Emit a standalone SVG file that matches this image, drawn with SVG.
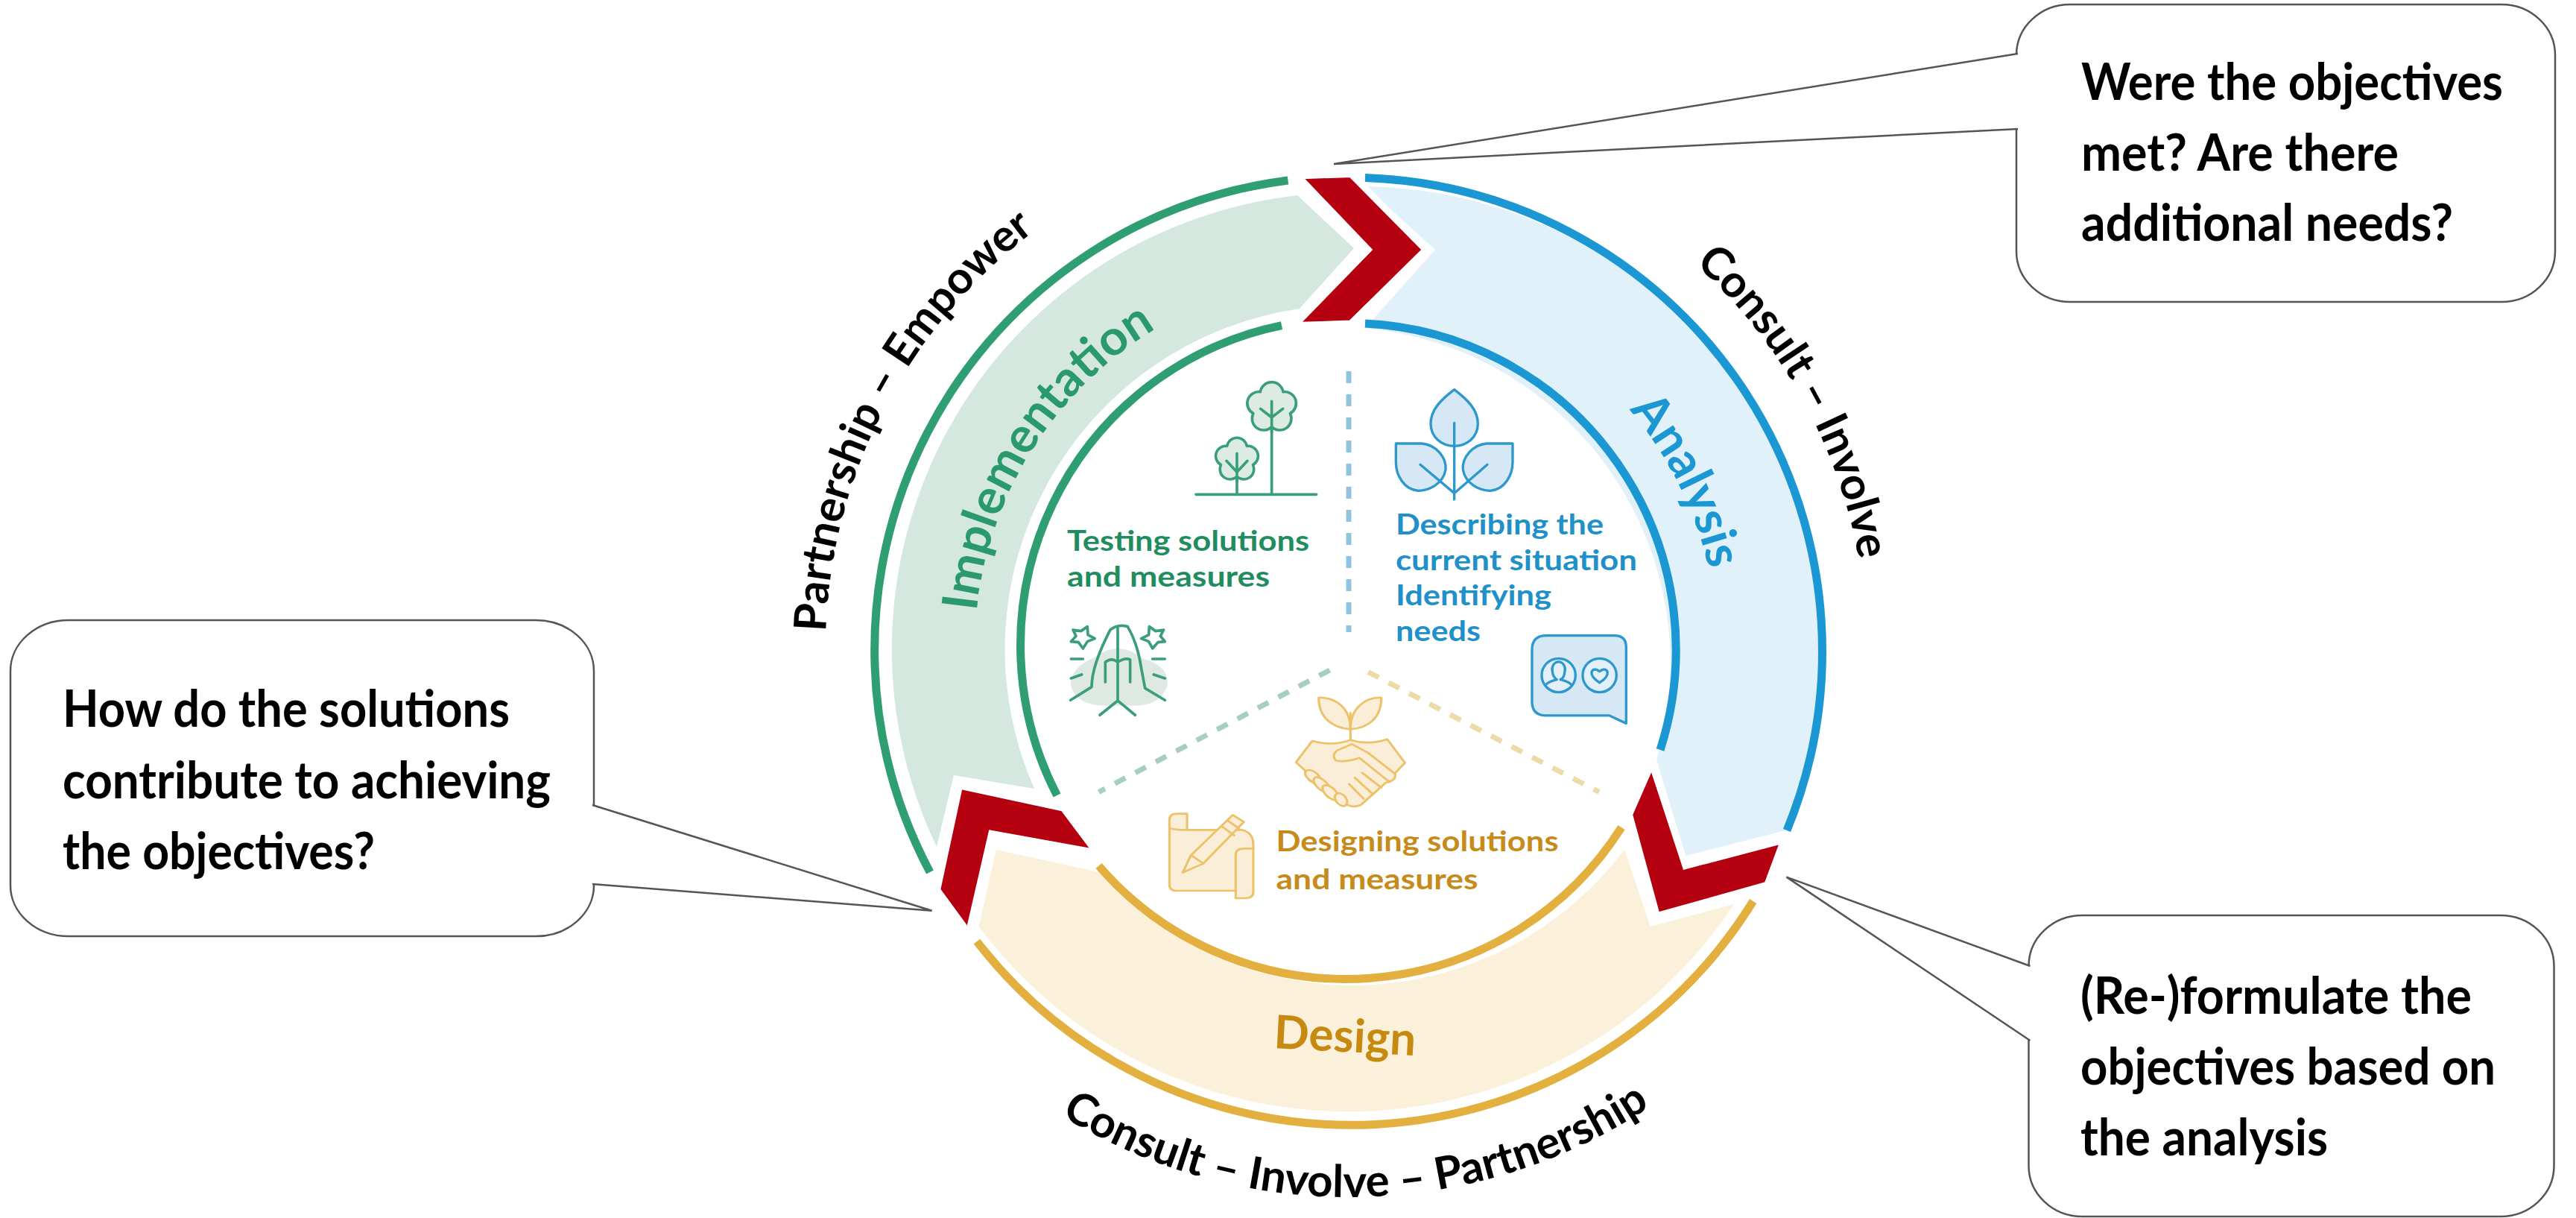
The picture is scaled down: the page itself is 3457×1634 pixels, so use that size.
<svg xmlns="http://www.w3.org/2000/svg" xmlns:xlink="http://www.w3.org/1999/xlink" width="3457" height="1634" viewBox="0 0 3457 1634">
<style>
text{font-family:"Lato","Carlito","Noto Sans",sans-serif;font-weight:700}
.call{fill:#fff;stroke:#555;stroke-width:2.5}
.ct{font-size:69px;fill:#000}
.arc{font-size:60px;fill:#000}
.tail{fill:#fff;stroke:#555;stroke-width:2.5;stroke-linejoin:miter}
.o{fill:none;stroke-width:11}
.g{stroke:#2f9e73}.b{stroke:#1b97d3}.y{stroke:#e3b03f}
.chev{fill:#b5000f;stroke:#fff;stroke-width:9;stroke-linejoin:miter}
.dash{fill:none;stroke-width:7;stroke-dasharray:16 15}
.i{stroke-linecap:round;stroke-linejoin:round}
.ig{fill:none;stroke:#3a9e7b;stroke-width:11}
.ib{fill:#d6e8f6;stroke:#2c98cc;stroke-width:10}
.iy{fill:#fbeed8;stroke:#ecc26a;stroke-width:8}
.tg{fill:#1f8d60;font-size:38px}
.tb{fill:#1f90c9;font-size:38px}
.ty{fill:#c68b1b;font-size:38px}
</style>
<defs>
<path id="p1" d="M1124.6 1022.9A702 702 0 0 1 1541.3 222.4"/>
<path id="p2" d="M2114.7 246.3A695 695 0 0 1 2501.2 943.6"/>
<path id="p3" d="M1298 1398.3A735 735 0 0 0 2337.4 1383"/>
<path id="p4" d="M1312.4 937.4A502 502 0 0 1 1658.2 392.5"/>
<path id="p5" d="M2046.2 436A495 495 0 0 1 2299.6 944.2"/>
<path id="crown" d="M-15.3-21A15.5 15.5 0 0 1 15.3-21A15.5 15.5 0 0 1 24.7 8A15.5 15.5 0 0 1 0 26A15.5 15.5 0 0 1-24.7 8A15.5 15.5 0 0 1-15.3-21Z"/>
</defs>
<rect width="3457" height="1634" fill="#fff"/>

<g id="implementation">
<path d="M1741 262L1817 333L1744 414A462 462 0 0 0 1388 1058L1280 1040L1257 1136A613 613 0 0 1 1741 262Z" fill="#d5e8df"/>
<path class="o g" d="M1248 1170A635 635 0 0 1 1728.5 242"/>
<path class="o g" d="M1418.5 1067A438 438 0 0 1 1720 436.6"/>
<text font-size="66" fill="#2a9a6c" text-anchor="middle"><textPath xlink:href="#p4" href="#p4" startOffset="50%">Implementation</textPath></text>
</g>
<g id="analysis">
<path d="M1832 250A622 622 0 0 1 2396 1114L2262 1148L2223 1019A452 452 0 0 0 1832 440L1926 335Z" fill="#e1f1f9"/>
<path class="o b" d="M1832 238.5A635 635 0 0 1 2398 1114"/>
<path class="o b" d="M1832 434A438 438 0 0 1 2228 1006"/>
<text font-size="66" fill="#1b97d3" text-anchor="middle"><textPath xlink:href="#p5" href="#p5" startOffset="50%">Analysis</textPath></text>
</g>
<g id="design">
<path d="M1337 1140L1475 1170A457 457 0 0 0 2180 1140L2215 1243L2327 1213A620 620 0 0 1 1313.5 1243Z" fill="#fbf0da"/>
<path class="o y" d="M1311 1263A635 635 0 0 0 2352.7 1209"/>
<path class="o y" d="M1474.5 1161.5A438 438 0 0 0 2176 1110"/>
<text x="1804" y="1411" font-size="62" fill="#c68a10" text-anchor="middle" transform="rotate(3 1804 1411)">Design</text>
</g>

<g id="chevrons">
<path class="chev" d="M1741.4 236L1813 233.4L1913.6 335L1813 434L1737 436.6L1836 335Z"/>
<path class="chev" d="M1287.7 1054L1427 1084L1472 1144L1330.7 1118.5L1300 1252L1257.6 1194Z"/>
<path class="chev" d="M2216.7 1023.7L2262 1161.5L2394 1127L2371.7 1187L2223.5 1228.7L2186.5 1092.6Z"/>
</g>

<g id="dividers">
<path class="dash" stroke="#8fc3de" d="M1810 498V848"/>
<path class="dash" stroke="#a6cfc2" d="M1784.5 899L1474.5 1062.5"/>
<path class="dash" stroke="#ecdaa8" d="M1836 901.5L2146 1062.5"/>
</g>

<g id="node-testing">
<g class="i" transform="translate(1350 480) scale(.3333)">
<path fill="#dfe9e3" stroke="none" d="M350 1210Q450 1130 550 1210Q660 1240 650 1320Q620 1400 520 1400L380 1400Q270 1390 260 1310Q270 1240 350 1210Z"/>
<path class="ig" fill="none" d="M765 550H1250M1070 550V175M1070 250L1025 205M1070 250L1115 205M930 550V385M930 470L888 425M930 470L972 425"/>
<use href="#crown" transform="translate(1070 200) scale(3)" fill="#dcebe4" stroke="#3a9e7b" stroke-width="3.6"/>
<use href="#crown" transform="translate(930 410) scale(2.6)" fill="#dcebe4" stroke="#3a9e7b" stroke-width="4"/>
<path class="ig" fill="none" d="M1070 300V175M1070 240L1025 205M1070 240L1115 205M930 500V385M930 460L888 415M930 460L972 415"/>
<path class="ig" stroke-width="8" fill="none" d="M260 1378L345 1325Q345 1240 420 1095Q450 1070 490 1082Q530 1150 545 1250L560 1330L640 1378M450 1085V1380M378 1438L450 1380L520 1438M400 1305V1225Q425 1205 450 1225Q480 1205 500 1215V1305M262 1212H310M262 1290L305 1275M590 1212H640M595 1275L640 1290"/>
<path class="ig" stroke-width="8" fill="#eaf3ee" d="M270 1095L302 1100L328 1082L330 1115L358 1130L328 1142L310 1170L292 1145L262 1142L282 1120Z"/>
<path class="ig" stroke-width="8" fill="#eaf3ee" d="M635 1095L603 1100L577 1082L575 1115L545 1130L575 1142L590 1170L612 1145L640 1142L622 1120Z"/>
</g>
<text class="tg" x="1432" y="739" textLength="325" lengthAdjust="spacingAndGlyphs">Testing solutions</text>
<text class="tg" x="1432" y="787" textLength="272" lengthAdjust="spacingAndGlyphs">and measures</text>
</g>

<g id="node-describing">
<g class="i" transform="translate(1820 480) scale(.3333)">
<path class="ib" d="M395 128C340 170 300 210 300 265C300 320 345 355 395 355C445 355 490 320 490 265C490 210 450 170 395 128Z"/>
<path class="ib" d="M160 345L265 345C320 350 365 400 360 450C350 510 290 535 250 535C190 530 160 470 160 420Z"/>
<path class="ib" d="M630 345L525 345C470 350 425 400 430 450C440 510 500 535 540 535C600 530 630 470 630 420Z"/>
<path fill="none" stroke="#2c98cc" stroke-width="10" d="M395 262V570M258 430L395 545M528 430L395 545"/>
<path class="ib" d="M765 1118H1040Q1087 1118 1087 1165V1472L1020 1440H765Q708 1440 708 1385V1175Q708 1118 765 1118Z"/>
<circle cx="815" cy="1278" r="68" fill="#e3eff9" stroke="#2c98cc" stroke-width="10"/>
<circle cx="980" cy="1278" r="68" fill="#e3eff9" stroke="#2c98cc" stroke-width="10"/>
<path fill="none" stroke="#2c98cc" stroke-width="10" d="M790 1262A26 30 0 1 1 840 1262Q838 1290 822 1295Q860 1305 868 1318M808 1295Q770 1305 762 1318M808 1295Q792 1285 790 1262"/>
<path fill="none" stroke="#2c98cc" stroke-width="10" d="M980 1308Q945 1285 948 1265Q955 1245 980 1262Q1005 1245 1012 1265Q1015 1285 980 1308Z"/>
</g>
<text class="tb" x="1873" y="717" textLength="279" lengthAdjust="spacingAndGlyphs">Describing the</text>
<text class="tb" x="1873" y="765" textLength="324" lengthAdjust="spacingAndGlyphs">current situation</text>
<text class="tb" x="1873" y="812" textLength="209" lengthAdjust="spacingAndGlyphs">Identifying</text>
<text class="tb" x="1873" y="860" textLength="114" lengthAdjust="spacingAndGlyphs">needs</text>
</g>

<g id="node-designing">
<g class="i" transform="translate(1520 900) scale(.395 .3333)">
<path class="iy" d="M632 108C690 105 740 150 740 235C680 230 632 190 632 108Z"/>
<path class="iy" d="M845 108C790 105 740 150 740 235C800 230 845 190 845 108Z"/>
<path fill="none" stroke="#ecc26a" stroke-width="8" d="M740 170V280"/>
<path class="iy" d="M610 282Q680 305 740 278Q800 300 865 275L925 370L885 420Q890 445 860 450L775 540Q740 555 720 530L600 440L585 400L555 368Z"/>
<path class="iy" fill="#fff" d="M690 360Q675 340 695 320L745 295Q770 310 800 330L892 415Q895 440 870 445L770 350Q720 370 690 360Z"/>
<path fill="none" stroke="#ecc26a" stroke-width="8" d="M780 410L845 470M755 430L815 495M735 455L785 515"/>
<ellipse class="iy" cx="612" cy="425" rx="32" ry="18" transform="rotate(45 612 425)"/>
<ellipse class="iy" cx="642" cy="458" rx="36" ry="18" transform="rotate(50 642 458)"/>
<ellipse class="iy" cx="672" cy="490" rx="36" ry="18" transform="rotate(50 672 490)"/>
<ellipse class="iy" cx="708" cy="518" rx="28" ry="18" transform="rotate(60 708 518)"/>
<path class="iy" d="M185 640H370Q410 650 410 700V890Q410 915 380 915H350V885H150Q125 885 125 860V600Q125 575 150 575H185Z"/>
<path fill="none" stroke="#ecc26a" stroke-width="8" d="M125 630Q125 640 185 640M350 885V740Q350 715 380 715H410"/>
<path class="iy" fill="#fff" d="M170 812L198 742L340 580L378 608L240 775Z"/>
<path fill="none" stroke="#ecc26a" stroke-width="8" d="M198 742L240 775M302 625L345 662M322 602L362 635"/>
</g>
<text class="ty" x="1712.5" y="1142" textLength="379" lengthAdjust="spacingAndGlyphs">Designing solutions</text>
<text class="ty" x="1712.5" y="1193" textLength="271" lengthAdjust="spacingAndGlyphs">and measures</text>
</g>

<g id="ring-labels">
<text class="arc" text-anchor="middle"><textPath xlink:href="#p1" href="#p1" startOffset="50%">Partnership – Empower</textPath></text>
<text class="arc" text-anchor="middle"><textPath xlink:href="#p2" href="#p2" startOffset="50%">Consult – Involve</textPath></text>
<text class="arc" text-anchor="middle"><textPath xlink:href="#p3" href="#p3" startOffset="50%">Consult – Involve – Partnership</textPath></text>
</g>

<g id="callout-evaluate">
<rect class="call" x="2706" y="6" width="723" height="399" rx="72" ry="68"/>
</g>
<g id="callout-objectives">
<rect class="call" x="2722.5" y="1228" width="705" height="404" rx="72" ry="68"/>
</g>
<g id="callout-solutions">
<rect class="call" x="14" y="832" width="783" height="424" rx="78" ry="68"/>
</g>

<g id="connectors">
<path class="tail" d="M2708 72L1790 220L2708 173"/>
<path class="tail" d="M2724.5 1296L2397.5 1176.6L2724.5 1396"/>
<path class="tail" d="M795 1080L1250.6 1221.7L795 1186"/>
</g>

<g id="callout-text">
<text class="ct" x="2793" y="134" textLength="566" lengthAdjust="spacingAndGlyphs">Were the objectives</text>
<text class="ct" x="2793" y="229" textLength="426" lengthAdjust="spacingAndGlyphs">met? Are there</text>
<text class="ct" x="2793" y="323" textLength="499" lengthAdjust="spacingAndGlyphs">additional needs?</text>
<text class="ct" x="2792" y="1360" textLength="525" lengthAdjust="spacingAndGlyphs">(Re-)formulate the</text>
<text class="ct" x="2792" y="1455" textLength="557" lengthAdjust="spacingAndGlyphs">objectives based on</text>
<text class="ct" x="2792" y="1550" textLength="332" lengthAdjust="spacingAndGlyphs">the analysis</text>
<text class="ct" x="84" y="975" textLength="600" lengthAdjust="spacingAndGlyphs">How do the solutions</text>
<text class="ct" x="84" y="1071" textLength="655" lengthAdjust="spacingAndGlyphs">contribute to achieving</text>
<text class="ct" x="84" y="1166" textLength="419" lengthAdjust="spacingAndGlyphs">the objectives?</text>
</g>
</svg>
